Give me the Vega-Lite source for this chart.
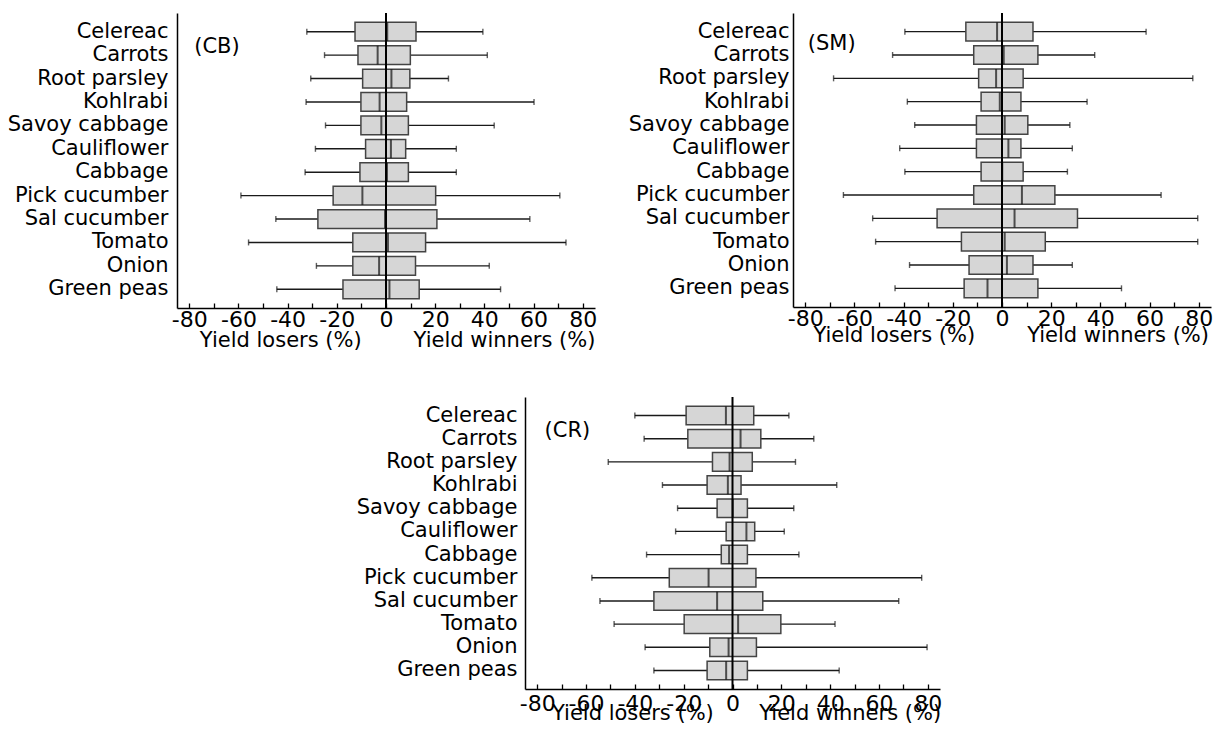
{
  "$schema": "https://vega.github.io/schema/vega-lite/v6.json",
  "padding": {"left": 7, "top": 12, "right": 0, "bottom": 0},
  "background": "white",
  "config": {"view": {"stroke": null}, "font": "DejaVu Sans", "axis": {"labelFont": "DejaVu Sans", "labelColor": "#000", "grid": false, "labelLimit": 0}},
  "bounds": "flush",
  "spacing": 384,
  "datasets": {
    "stats": [
      {"panel": "CB", "crop": "Celereac", "low": -32.2, "q1": -12.6, "med": 0.5, "q3": 12.2, "high": 39.4},
      {"panel": "CB", "crop": "Carrots", "low": -25, "q1": -11.4, "med": -3.4, "q3": 9.9, "high": 41.2},
      {"panel": "CB", "crop": "Root parsley", "low": -30.6, "q1": -9.5, "med": 2.2, "q3": 9.7, "high": 25.4},
      {"panel": "CB", "crop": "Kohlrabi", "low": -32.5, "q1": -10.2, "med": -2.6, "q3": 8.4, "high": 60.2},
      {"panel": "CB", "crop": "Savoy cabbage", "low": -24.6, "q1": -10.2, "med": -1.9, "q3": 9.1, "high": 44},
      {"panel": "CB", "crop": "Cauliflower", "low": -28.7, "q1": -8.3, "med": 2, "q3": 8, "high": 28.6},
      {"panel": "CB", "crop": "Cabbage", "low": -32.9, "q1": -10.6, "med": 0.4, "q3": 9.1, "high": 28.6},
      {"panel": "CB", "crop": "Pick cucumber", "low": -59, "q1": -21.5, "med": -9.6, "q3": 20.2, "high": 70.7},
      {"panel": "CB", "crop": "Sal cucumber", "low": -44.8, "q1": -27.7, "med": -0.4, "q3": 20.7, "high": 58.5},
      {"panel": "CB", "crop": "Tomato", "low": -55.9, "q1": -13.5, "med": 0.8, "q3": 16.1, "high": 73.2},
      {"panel": "CB", "crop": "Onion", "low": -28.3, "q1": -13.5, "med": -2.8, "q3": 12, "high": 42},
      {"panel": "CB", "crop": "Green peas", "low": -44.4, "q1": -17.5, "med": 1.4, "q3": 13.5, "high": 46.6},
      {"panel": "SM", "crop": "Celereac", "low": -39.5, "q1": -14.7, "med": -2, "q3": 12.6, "high": 58.6},
      {"panel": "SM", "crop": "Carrots", "low": -44.5, "q1": -11.5, "med": 0.7, "q3": 14.6, "high": 37.7},
      {"panel": "SM", "crop": "Root parsley", "low": -68.5, "q1": -9.5, "med": -2.4, "q3": 8.6, "high": 77.6},
      {"panel": "SM", "crop": "Kohlrabi", "low": -38.5, "q1": -8.5, "med": -0.9, "q3": 7.7, "high": 34.6},
      {"panel": "SM", "crop": "Savoy cabbage", "low": -35.5, "q1": -10.4, "med": 1.1, "q3": 10.5, "high": 27.6},
      {"panel": "SM", "crop": "Cauliflower", "low": -41.6, "q1": -10.4, "med": 2.6, "q3": 7.7, "high": 28.6},
      {"panel": "SM", "crop": "Cabbage", "low": -39.5, "q1": -8.5, "med": 0.1, "q3": 8.6, "high": 26.6},
      {"panel": "SM", "crop": "Pick cucumber", "low": -64.5, "q1": -11.5, "med": 8.1, "q3": 21.5, "high": 64.7},
      {"panel": "SM", "crop": "Sal cucumber", "low": -52.6, "q1": -26.4, "med": 5.1, "q3": 30.7, "high": 79.6},
      {"panel": "SM", "crop": "Tomato", "low": -51.4, "q1": -16.5, "med": 1.1, "q3": 17.6, "high": 79.6},
      {"panel": "SM", "crop": "Onion", "low": -37.6, "q1": -13.4, "med": 2, "q3": 12.6, "high": 28.6},
      {"panel": "SM", "crop": "Green peas", "low": -43.5, "q1": -15.4, "med": -5.9, "q3": 14.6, "high": 48.6},
      {"panel": "CR", "crop": "Celereac", "low": -40, "q1": -19, "med": -2.7, "q3": 8.7, "high": 23.1},
      {"panel": "CR", "crop": "Carrots", "low": -36.2, "q1": -18.3, "med": 3.3, "q3": 11.6, "high": 33.3},
      {"panel": "CR", "crop": "Root parsley", "low": -50.9, "q1": -8.2, "med": -1.2, "q3": 8.1, "high": 25.8},
      {"panel": "CR", "crop": "Kohlrabi", "low": -28.7, "q1": -10.4, "med": -1.9, "q3": 3.5, "high": 42.7},
      {"panel": "CR", "crop": "Savoy cabbage", "low": -22.5, "q1": -6.3, "med": 0.1, "q3": 6.1, "high": 25.1},
      {"panel": "CR", "crop": "Cauliflower", "low": -23.3, "q1": -2.6, "med": 5.7, "q3": 9.1, "high": 21.2},
      {"panel": "CR", "crop": "Cabbage", "low": -35.2, "q1": -4.6, "med": -1.4, "q3": 6.1, "high": 27.2},
      {"panel": "CR", "crop": "Pick cucumber", "low": -57.6, "q1": -25.9, "med": -9.8, "q3": 9.6, "high": 77.5},
      {"panel": "CR", "crop": "Sal cucumber", "low": -54.3, "q1": -32.2, "med": -6.3, "q3": 12.4, "high": 68.1},
      {"panel": "CR", "crop": "Tomato", "low": -48.5, "q1": -19.8, "med": 2.3, "q3": 19.8, "high": 42},
      {"panel": "CR", "crop": "Onion", "low": -35.8, "q1": -9.3, "med": -1.6, "q3": 9.8, "high": 79.7},
      {"panel": "CR", "crop": "Green peas", "low": -32.2, "q1": -10.4, "med": -2.6, "q3": 6.1, "high": 43.7}
    ]
  },
  "vconcat": [
    {
      "hconcat": [
        {
          "width": 418, "height": 295,
          "data": {"name": "stats"},
          "transform": [{"filter": "datum.panel === 'CB'"}],
          "resolve": {"axis": {"x": "independent"}},
          "layer": [
            {"mark": {"type": "rule", "color": "#1a1a1a", "strokeWidth": 1.4},
             "encoding": {
               "y": {"field": "crop", "type": "nominal", "sort": ["Celereac","Carrots","Root parsley","Kohlrabi","Savoy cabbage","Cauliflower","Cabbage","Pick cucumber","Sal cucumber","Tomato","Onion","Green peas"], "scale": {"paddingInner": 0.2, "paddingOuter": 0.4}, "axis": {"title": null, "ticks": false, "domainColor": "#000", "domainWidth": 1.5, "labelFontSize": 21, "labelPadding": 9, "labelColor": "#000"}},
               "x": {"field": "low", "type": "quantitative", "scale": {"domain": [-85, 85], "nice": false, "zero": false}, "axis": {"orient": "bottom", "values": [-80,-60,-40,-20,0,20,40,60,80], "labelExpr": "'' + datum.value", "ticks": false, "domainColor": "#000", "domainWidth": 1.5, "labelFontSize": 22, "labelPadding": 1, "title": null, "labelFlush": false, "labelOverlap": false, "labelColor": "#000"}},
               "x2": {"field": "high"}}},
            {"mark": {"type": "tick", "orient": "vertical", "size": 6, "thickness": 1.4, "color": "#1a1a1a"},
             "encoding": {"y": {"field": "crop", "type": "nominal", "sort": ["Celereac","Carrots","Root parsley","Kohlrabi","Savoy cabbage","Cauliflower","Cabbage","Pick cucumber","Sal cucumber","Tomato","Onion","Green peas"]}, "x": {"field": "low", "type": "quantitative", "axis": null}}},
            {"mark": {"type": "tick", "orient": "vertical", "size": 6, "thickness": 1.4, "color": "#1a1a1a"},
             "encoding": {"y": {"field": "crop", "type": "nominal", "sort": ["Celereac","Carrots","Root parsley","Kohlrabi","Savoy cabbage","Cauliflower","Cabbage","Pick cucumber","Sal cucumber","Tomato","Onion","Green peas"]}, "x": {"field": "high", "type": "quantitative", "axis": null}}},
            {"mark": {"type": "bar", "fill": "#d6d6d6", "stroke": "#444", "strokeWidth": 1.5},
             "encoding": {"y": {"field": "crop", "type": "nominal", "sort": ["Celereac","Carrots","Root parsley","Kohlrabi","Savoy cabbage","Cauliflower","Cabbage","Pick cucumber","Sal cucumber","Tomato","Onion","Green peas"]}, "x": {"field": "q1", "type": "quantitative", "axis": {"orient": "bottom", "values": [-80,-70,-60,-50,-40,-30,-20,-10,0,10,20,30,40,50,60,70,80], "labels": false, "domain": false, "ticks": true, "tickSize": -5, "tickColor": "#000", "tickWidth": 1.3, "title": null}}, "x2": {"field": "q3"}}},
            {"mark": {"type": "tick", "orient": "vertical", "size": 18.7, "thickness": 2, "color": "#111"},
             "encoding": {"y": {"field": "crop", "type": "nominal", "sort": ["Celereac","Carrots","Root parsley","Kohlrabi","Savoy cabbage","Cauliflower","Cabbage","Pick cucumber","Sal cucumber","Tomato","Onion","Green peas"]}, "x": {"field": "med", "type": "quantitative", "axis": {"orient": "bottom", "values": [-43, 48], "labelExpr": "datum.value < 0 ? 'Yield losers (%)' : 'Yield winners (%)'", "ticks": false, "domain": false, "labelPadding": 21, "labelFontSize": 21, "labelLimit": 0, "title": null, "labelOverlap": false, "labelFlush": false, "labelColor": "#000"}}}},
            {"data": {"values": [{}]}, "mark": {"type": "rule", "color": "#000", "strokeWidth": 2},
             "encoding": {"x": {"datum": 0, "type": "quantitative", "axis": null}}},
            {"data": {"values": [{}]}, "mark": {"type": "text", "align": "left", "baseline": "middle", "fontSize": 21, "color": "#000", "dy": 15},
             "encoding": {"x": {"datum": -78, "type": "quantitative", "axis": null}, "y": {"datum": "Celereac", "type": "nominal"}, "text": {"value": "(CB)"}}}
          ]
        },
        {
          "width": 418, "height": 294,
          "data": {"name": "stats"},
          "transform": [{"filter": "datum.panel === 'SM'"}],
          "resolve": {"axis": {"x": "independent"}},
          "layer": [
            {"mark": {"type": "rule", "color": "#1a1a1a", "strokeWidth": 1.4},
             "encoding": {
               "y": {"field": "crop", "type": "nominal", "sort": ["Celereac","Carrots","Root parsley","Kohlrabi","Savoy cabbage","Cauliflower","Cabbage","Pick cucumber","Sal cucumber","Tomato","Onion","Green peas"], "scale": {"paddingInner": 0.2, "paddingOuter": 0.4}, "axis": {"title": null, "ticks": false, "domainColor": "#000", "domainWidth": 1.5, "labelFontSize": 21, "labelPadding": 4, "labelColor": "#000"}},
               "x": {"field": "low", "type": "quantitative", "scale": {"domain": [-85, 85], "nice": false, "zero": false}, "axis": {"orient": "bottom", "values": [-80,-60,-40,-20,0,20,40,60,80], "labelExpr": "'' + datum.value", "ticks": false, "domainColor": "#000", "domainWidth": 1.5, "labelFontSize": 22, "labelPadding": 1, "title": null, "labelFlush": false, "labelOverlap": false, "labelColor": "#000"}},
               "x2": {"field": "high"}}},
            {"mark": {"type": "tick", "orient": "vertical", "size": 6, "thickness": 1.4, "color": "#1a1a1a"},
             "encoding": {"y": {"field": "crop", "type": "nominal", "sort": ["Celereac","Carrots","Root parsley","Kohlrabi","Savoy cabbage","Cauliflower","Cabbage","Pick cucumber","Sal cucumber","Tomato","Onion","Green peas"]}, "x": {"field": "low", "type": "quantitative", "axis": null}}},
            {"mark": {"type": "tick", "orient": "vertical", "size": 6, "thickness": 1.4, "color": "#1a1a1a"},
             "encoding": {"y": {"field": "crop", "type": "nominal", "sort": ["Celereac","Carrots","Root parsley","Kohlrabi","Savoy cabbage","Cauliflower","Cabbage","Pick cucumber","Sal cucumber","Tomato","Onion","Green peas"]}, "x": {"field": "high", "type": "quantitative", "axis": null}}},
            {"mark": {"type": "bar", "fill": "#d6d6d6", "stroke": "#444", "strokeWidth": 1.5},
             "encoding": {"y": {"field": "crop", "type": "nominal", "sort": ["Celereac","Carrots","Root parsley","Kohlrabi","Savoy cabbage","Cauliflower","Cabbage","Pick cucumber","Sal cucumber","Tomato","Onion","Green peas"]}, "x": {"field": "q1", "type": "quantitative", "axis": {"orient": "bottom", "values": [-80,-70,-60,-50,-40,-30,-20,-10,0,10,20,30,40,50,60,70,80], "labels": false, "domain": false, "ticks": true, "tickSize": -5, "tickColor": "#000", "tickWidth": 1.3, "title": null}}, "x2": {"field": "q3"}}},
            {"mark": {"type": "tick", "orient": "vertical", "size": 18.7, "thickness": 2, "color": "#111"},
             "encoding": {"y": {"field": "crop", "type": "nominal", "sort": ["Celereac","Carrots","Root parsley","Kohlrabi","Savoy cabbage","Cauliflower","Cabbage","Pick cucumber","Sal cucumber","Tomato","Onion","Green peas"]}, "x": {"field": "med", "type": "quantitative", "axis": {"orient": "bottom", "values": [-44, 47], "labelExpr": "datum.value < 0 ? 'Yield losers (%)' : 'Yield winners (%)'", "ticks": false, "domain": false, "labelPadding": 17, "labelFontSize": 21, "labelLimit": 0, "title": null, "labelOverlap": false, "labelFlush": false, "labelColor": "#000"}}}},
            {"data": {"values": [{}]}, "mark": {"type": "rule", "color": "#000", "strokeWidth": 2},
             "encoding": {"x": {"datum": 0, "type": "quantitative", "axis": null}}},
            {"data": {"values": [{}]}, "mark": {"type": "text", "align": "left", "baseline": "middle", "fontSize": 21, "color": "#000", "dy": 12},
             "encoding": {"x": {"datum": -79, "type": "quantitative", "axis": null}, "y": {"datum": "Celereac", "type": "nominal"}, "text": {"value": "(SM)"}}}
          ]
        }
      ],
      "spacing": 198,
      "bounds": "flush"
    },
    {
      "hconcat": [
        {"width": 348, "height": 10, "data": {"values": [{}]}, "mark": {"type": "point", "opacity": 0}, "encoding": {}},
        {
          "width": 415, "height": 292,
          "data": {"name": "stats"},
          "transform": [{"filter": "datum.panel === 'CR'"}],
          "resolve": {"axis": {"x": "independent"}},
          "layer": [
            {"mark": {"type": "rule", "color": "#1a1a1a", "strokeWidth": 1.4},
             "encoding": {
               "y": {"field": "crop", "type": "nominal", "sort": ["Celereac","Carrots","Root parsley","Kohlrabi","Savoy cabbage","Cauliflower","Cabbage","Pick cucumber","Sal cucumber","Tomato","Onion","Green peas"], "scale": {"paddingInner": 0.2, "paddingOuter": 0.4}, "axis": {"title": null, "ticks": false, "domainColor": "#000", "domainWidth": 1.5, "labelFontSize": 21, "labelPadding": 8, "labelColor": "#000"}},
               "x": {"field": "low", "type": "quantitative", "scale": {"domain": [-85, 85], "nice": false, "zero": false}, "axis": {"orient": "bottom", "values": [-80,-60,-40,-20,0,20,40,60,80], "labelExpr": "'' + datum.value", "ticks": false, "domainColor": "#000", "domainWidth": 1.5, "labelFontSize": 22, "labelPadding": 4, "title": null, "labelFlush": false, "labelOverlap": false, "labelColor": "#000"}},
               "x2": {"field": "high"}}},
            {"mark": {"type": "tick", "orient": "vertical", "size": 6, "thickness": 1.4, "color": "#1a1a1a"},
             "encoding": {"y": {"field": "crop", "type": "nominal", "sort": ["Celereac","Carrots","Root parsley","Kohlrabi","Savoy cabbage","Cauliflower","Cabbage","Pick cucumber","Sal cucumber","Tomato","Onion","Green peas"]}, "x": {"field": "low", "type": "quantitative", "axis": null}}},
            {"mark": {"type": "tick", "orient": "vertical", "size": 6, "thickness": 1.4, "color": "#1a1a1a"},
             "encoding": {"y": {"field": "crop", "type": "nominal", "sort": ["Celereac","Carrots","Root parsley","Kohlrabi","Savoy cabbage","Cauliflower","Cabbage","Pick cucumber","Sal cucumber","Tomato","Onion","Green peas"]}, "x": {"field": "high", "type": "quantitative", "axis": null}}},
            {"mark": {"type": "bar", "fill": "#d6d6d6", "stroke": "#444", "strokeWidth": 1.5},
             "encoding": {"y": {"field": "crop", "type": "nominal", "sort": ["Celereac","Carrots","Root parsley","Kohlrabi","Savoy cabbage","Cauliflower","Cabbage","Pick cucumber","Sal cucumber","Tomato","Onion","Green peas"]}, "x": {"field": "q1", "type": "quantitative", "axis": {"orient": "bottom", "values": [-80,-70,-60,-50,-40,-30,-20,-10,0,10,20,30,40,50,60,70,80], "labels": false, "domain": false, "ticks": true, "tickSize": -5, "tickColor": "#000", "tickWidth": 1.3, "title": null}}, "x2": {"field": "q3"}}},
            {"mark": {"type": "tick", "orient": "vertical", "size": 18.5, "thickness": 2, "color": "#111"},
             "encoding": {"y": {"field": "crop", "type": "nominal", "sort": ["Celereac","Carrots","Root parsley","Kohlrabi","Savoy cabbage","Cauliflower","Cabbage","Pick cucumber","Sal cucumber","Tomato","Onion","Green peas"]}, "x": {"field": "med", "type": "quantitative", "axis": {"orient": "bottom", "values": [-41, 48], "labelExpr": "datum.value < 0 ? 'Yield losers (%)' : 'Yield winners (%)'", "ticks": false, "domain": false, "labelPadding": 13, "labelFontSize": 21, "labelLimit": 0, "title": null, "labelOverlap": false, "labelFlush": false, "labelColor": "#000"}}}},
            {"data": {"values": [{}]}, "mark": {"type": "rule", "color": "#000", "strokeWidth": 2},
             "encoding": {"x": {"datum": 0, "type": "quantitative", "axis": null}}},
            {"data": {"values": [{}]}, "mark": {"type": "text", "align": "left", "baseline": "middle", "fontSize": 21, "color": "#000", "dy": 15},
             "encoding": {"x": {"datum": -77, "type": "quantitative", "axis": null}, "y": {"datum": "Celereac", "type": "nominal"}, "text": {"value": "(CR)"}}}
          ]
        }
      ],
      "spacing": 0,
      "bounds": "flush"
    }
  ]
}
